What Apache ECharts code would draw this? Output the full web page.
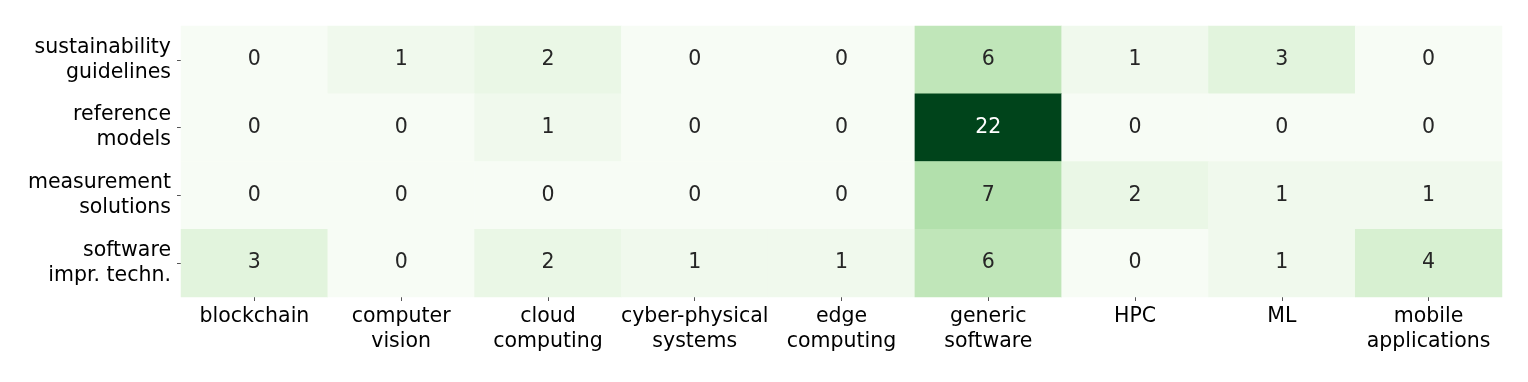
<!DOCTYPE html>
<html lang="en">
<head>
    <meta charset="UTF-8">
    <title>Heatmap</title>
    <script src="https://cdn.jsdelivr.net/npm/echarts@6/dist/echarts.min.js"></script>
</head>
<body style="margin:0;background:#fff;">
<div id="main" style="width:1528px;height:382px;"></div>
<script>
    // categories
    var domains = ['blockchain', 'computer\nvision', 'cloud\ncomputing', 'cyber-physical\nsystems',
        'edge\ncomputing', 'generic\nsoftware', 'HPC', 'ML', 'mobile\napplications'];
    var topics = ['sustainability\nguidelines', 'reference\nmodels', 'measurement\nsolutions', 'software\nimpr. techn.'];
    // counts per topic (row), one value per domain
    var sustainability = [0, 1, 2, 0, 0, 6, 1, 3, 0];
    var reference = [0, 0, 1, 0, 0, 22, 0, 0, 0];
    var measurement = [0, 0, 0, 0, 0, 7, 2, 1, 1];
    var improvement = [3, 0, 2, 1, 1, 6, 0, 1, 4];
    var rows = [sustainability, reference, measurement, improvement];

    // matplotlib "Greens"
    var greens = ['#f7fcf5', '#e5f5e0', '#c7e9c0', '#a1d99b', '#74c476', '#41ab5d', '#238b45', '#006d2c', '#00441b'];

    var data = [];
    rows.forEach(function (r, y) {
        r.forEach(function (v, x) {
            data.push({
                value: [x, y, v],
                label: {color: v > 11 ? '#ffffff' : '#262626'}
            });
        });
    });

    var myChart = echarts.init(document.getElementById('main'));
    var option = {
        backgroundColor: '#ffffff',
        animation: false,
        textStyle: {fontFamily: 'DejaVu Sans'},
        grid: {left: 181, right: 26, top: 26, bottom: 85},
        xAxis: {
            type: 'category',
            data: domains,
            axisLine: {show: false},
            axisTick: {show: true, alignWithLabel: true, length: 4, lineStyle: {color: '#555'}},
            splitArea: {show: false},
            axisLabel: {color: '#000', fontSize: 20.5, lineHeight: 25, margin: 7, interval: 0}
        },
        yAxis: {
            type: 'category',
            data: topics,
            inverse: true,
            axisLine: {show: false},
            axisTick: {show: true, alignWithLabel: true, length: 4, lineStyle: {color: '#555'}},
            axisLabel: {color: '#000', fontSize: 20.5, lineHeight: 25, margin: 10, align: 'right'}
        },
        visualMap: {
            show: false,
            min: 0,
            max: 22,
            calculable: false,
            inRange: {color: greens}
        },
        series: [{
            type: 'heatmap',
            data: data,
            label: {show: true, fontSize: 20.5},
            emphasis: {disabled: true}
        }]
    };
    myChart.setOption(option);
</script>
</body>
</html>
